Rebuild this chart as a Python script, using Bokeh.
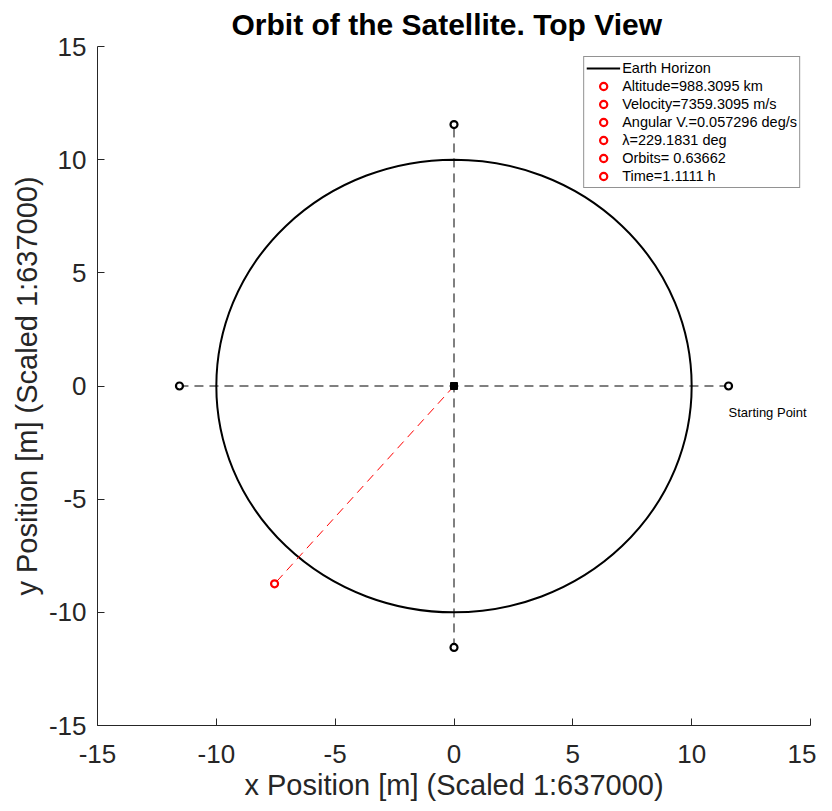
import math
from bokeh.plotting import figure
from bokeh.models import Legend, LegendItem, Range1d, FixedTicker
from bokeh.core.properties import value
from bokeh.embed import file_html
from bokeh.resources import INLINE

FONT = "Liberation Sans"
AX = "#262626"

# ---- data ----
earth_x = [0.0]
earth_y = [0.0]
earth_diameter = [20.0]          # Earth radius 10 (scaled)

hline_x = [-11.5515, 11.5515]
hline_y = [0.0, 0.0]
vline_x = [0.0, 0.0]
vline_y = [-11.5515, 11.5515]

ref_x = [-11.5515, 11.5515, 0.0, 0.0]
ref_y = [0.0, 0.0, -11.5515, 11.5515]

center_x = [0.0]
center_y = [0.0]

sat_line_x = [0.0, -7.55]
sat_line_y = [0.0, -8.74]
sat_x = [-7.55]
sat_y = [-8.74]

start_label_x = [11.5515]
start_label_y = [-1.17]
start_label_text = ["Starting Point"]

legend_labels = [
    "Earth Horizon",
    "Altitude=988.3095 km",
    "Velocity=7359.3095 m/s",
    "Angular V.=0.057296 deg/s",
    "\u03bb=229.1831 deg",
    "Orbits= 0.63662",
    "Time=1.1111 h",
]
ticks = [-15, -10, -5, 0, 5, 10, 15]
tick_labels = ["-15", "-10", "-5", "0", "5", "10", "15"]

# ---- figure ----
p = figure(width=816, height=803, output_backend="svg", toolbar_location=None,
           x_range=Range1d(-15, 15), y_range=Range1d(-15, 15),
           min_border_left=97, min_border_right=6, min_border_top=46,
           min_border_bottom=78)
p.outline_line_color = None
p.xgrid.visible = False
p.ygrid.visible = False
p.background_fill_color = "white"
p.border_fill_color = "white"

p.title.text = "Orbit of the Satellite. Top View"
p.title.text_font = FONT
p.title.text_font_size = "30px"
p.title.text_font_style = "bold"
p.title.text_color = "black"
p.title.align = "left"
p.title.offset = 134
p.title.standoff = 11

for ax, lab in ((p.xaxis[0], "x Position [m] (Scaled 1:637000)"),
                (p.yaxis[0], "y Position [m] (Scaled 1:637000)")):
    ax.ticker = FixedTicker(ticks=ticks)
    ax.major_label_overrides = {t: s for t, s in zip(ticks, tick_labels)}
    ax.axis_label = lab
    ax.axis_label_text_font = FONT
    ax.axis_label_text_font_size = "29px"
    ax.axis_label_text_font_style = "normal"
    ax.axis_label_text_color = AX
    ax.major_label_text_font = FONT
    ax.major_label_text_font_size = "26px"
    ax.major_label_text_color = AX
    ax.axis_line_color = AX
    ax.axis_line_width = 1
    ax.major_tick_line_color = AX
    ax.major_tick_in = 7
    ax.major_tick_out = 0
    ax.minor_tick_line_color = None
p.xaxis[0].major_label_standoff = 19
p.xaxis[0].axis_label_standoff = 3
p.yaxis[0].major_label_standoff = 11
p.yaxis[0].axis_label_standoff = 3

# Earth horizon
p.ellipse(x=earth_x, y=earth_y, width=earth_diameter, height=earth_diameter,
          fill_color=None, line_color="black", line_width=2)
earth_proxy = p.line(x=[float("nan")] * 2, y=[float("nan")] * 2,
                     line_color="black", line_width=2)

# dashed reference axes
p.line(x=hline_x, y=hline_y, line_color="black", line_width=1, line_dash="9 6")
p.line(x=vline_x, y=vline_y, line_color="black", line_width=1, line_dash="9 6")
p.scatter(x=ref_x, y=ref_y, marker="circle", size=7, fill_color="white",
          line_color="black", line_width=2.2)

# satellite
p.line(x=sat_line_x, y=sat_line_y, line_color="red", line_width=1, line_dash="9 6")
sat_r = p.scatter(x=sat_x, y=sat_y, marker="circle", size=7, fill_color="white",
                  line_color="red", line_width=2.2)

p.scatter(x=center_x, y=center_y, marker="square", size=7, fill_color="black",
          line_color="black")

p.text(x=start_label_x, y=start_label_y, text=start_label_text,
       text_font=value(FONT), text_font_size="13px", text_color="black",
       text_align="left", text_baseline="middle")

items = [LegendItem(label=legend_labels[0], renderers=[earth_proxy])]
for lab in legend_labels[1:]:
    items.append(LegendItem(label=lab, renderers=[sat_r]))
legend = Legend(items=items, location="top_right", margin=10,
                label_text_font=FONT, label_text_font_size="14.5px",
                label_text_color="black",
                label_height=18, glyph_height=18, glyph_width=34,
                label_standoff=2, spacing=0, padding=2,
                border_line_color=AX, border_line_width=1,
                background_fill_color="white", background_fill_alpha=1.0)
p.add_layout(legend, "center")

open("out.html", "w").write(file_html(p, INLINE))
